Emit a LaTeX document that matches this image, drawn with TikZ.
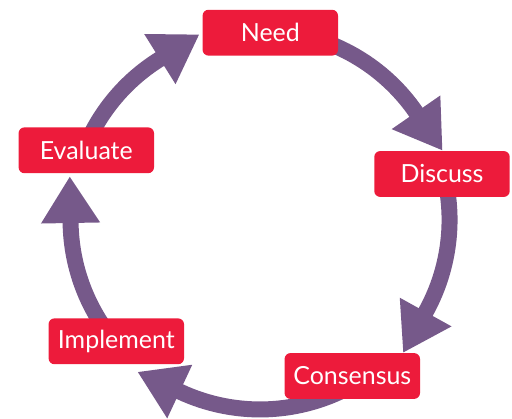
\documentclass[tikz,border=0pt]{standalone}
\usepackage{fontspec}
\setmainfont{Lato}
\usetikzlibrary{arrows.meta, calc}

\definecolor{stagered}{RGB}{237,27,59}
\definecolor{cyclepurple}{RGB}{118,89,138}

\begin{document}
\begin{tikzpicture}[scale=0.02,
      stage/.style={rectangle, rounded corners=3.4pt, fill=stagered, text=white, minimum width=77.1pt, minimum height=26.1pt, inner sep=0pt, font=\fontsize{14.2}{16}\selectfont},
      flow/.style={cyclepurple, line width=9.1pt, -{Triangle[length=26.6pt, width=31.7pt]}}]

  \useasboundingbox (0,0) rectangle (512,419);
  \coordinate (hub) at (260,199);

  % Arrows
  \foreach \a/\b in {80/34.7, 10/-29, -60/-115, 215/181, 162/122} {
    \draw[flow] ($(hub)+(\a:189.5)$) arc[start angle=\a, end angle=\b, radius=189.5] -- ++(\b-90:47);
  }

  % Stages
  \node[stage] (need) at (270.3,386.3) {Need};
  \node[stage] (discuss) at (442,245) {Discuss};
  \node[stage] (consensus) at (352.3,43) {Consensus};
  \node[stage] (implement) at (116.3,77.7) {Implement};
  \node[stage] (evaluate) at (86.3,268.7) {Evaluate};
\end{tikzpicture}
\end{document}
